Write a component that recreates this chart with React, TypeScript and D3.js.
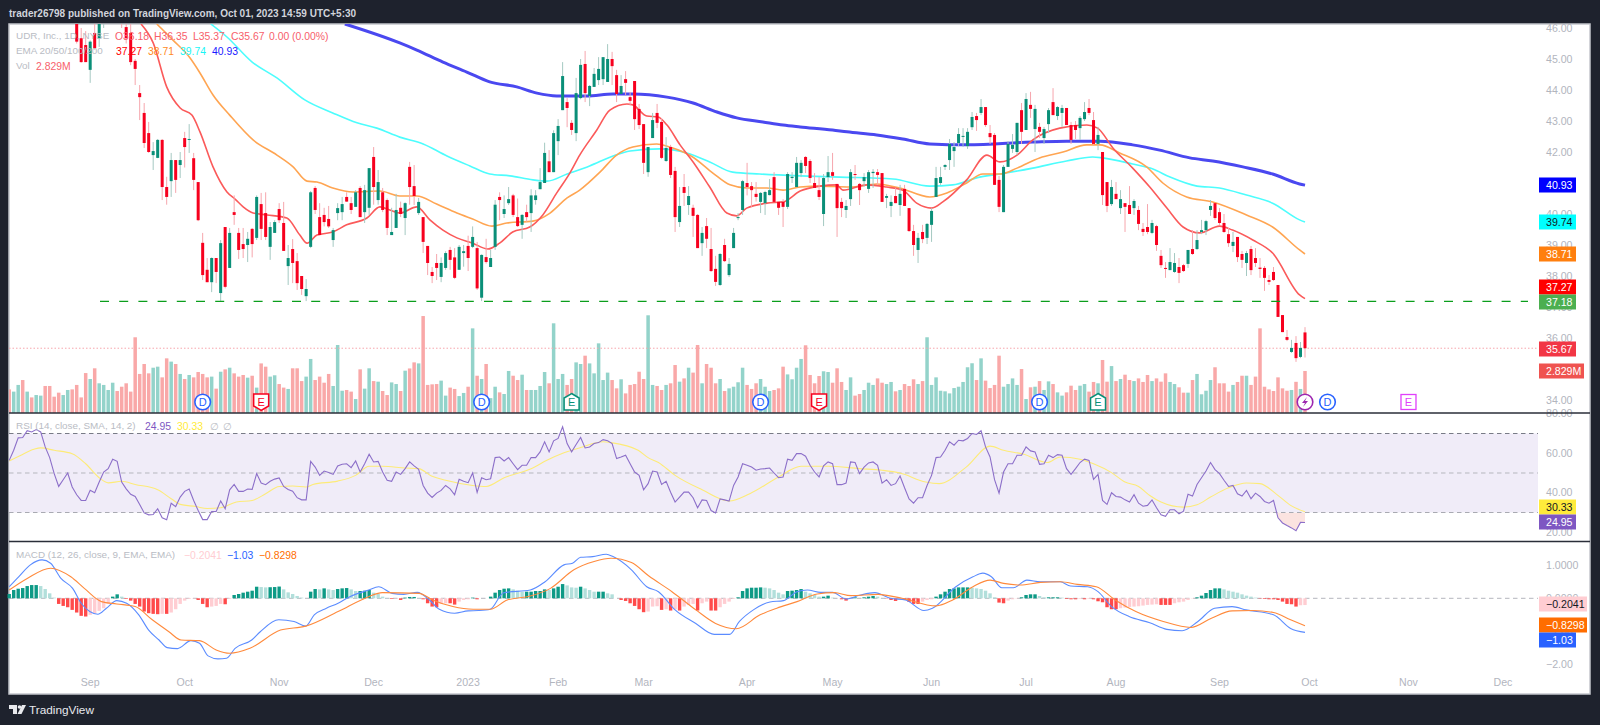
import React, { useEffect, useRef } from 'react'
import * as d3 from 'd3'

// one row per trading day: open, high, low, close
const ohlcRows: number[][] = [
  [46.9,47.2,46.5,46.7],[46.7,47.3,46.5,47.1],[47.1,47.7,46.9,47.5],[47.5,47.9,47.0,47.2],[47.2,48.0,47.1,47.8],
  [47.8,48.2,47.3,47.5],[47.5,48.4,47.4,48.2],[48.2,49.0,48.0,48.8],[48.8,49.1,48.2,48.4],[48.4,48.6,47.8,48.0],
  [48.0,48.2,47.4,47.6],[47.6,47.8,47.0,47.2],[47.2,47.6,46.9,47.4],[47.4,47.8,47.1,47.6],[47.6,47.7,46.7,46.9],
  [46.6,47,45.5,45.56],[45.67,46,44.88,44.9],[45.45,45.9,44.9,44.9],[44.65,45.6,44.23,45.56],[45.84,46.3,45.3,45.35],
  [45.67,46.8,45.39,46.3],[46.5,47.2,46,47],[47,47.8,46.8,47.4],[47.2,47.8,47,47.5],[47.4,47.6,46.8,46.9],
  [46.9,47.2,46,46.4],[46.03,46.5,45.5,45.67],[45.84,46.2,44.8,44.9],[44.94,45,44.16,44.68],[43.9,44.16,43.03,43.77],
  [43.26,43.58,42.13,42.29],[42.61,42.97,41.97,42],[41.9,42.32,41.42,42.03],[41.81,42.42,41.8,42.39],[42.39,42.42,40.45,40.87],
  [40.87,41.2,40.3,40.55],[41.06,41.97,40.55,41.74],[41.74,41.74,40.68,41.1],[41.58,42,41.16,41.74],[42.45,42.65,41.5,42.16],
  [42.39,42.9,41.97,42.42],[41.8,41.97,40.77,41.1],[41.03,41.03,39.77,39.8],[39.07,39.39,37.87,38.03],[38.2,38.58,37.8,37.8],
  [37.8,38.6,37.48,38.58],[38.58,38.58,37.77,38.13],[37.45,39.16,37.19,39.06],[39.58,39.58,37.6,37.65],[38.26,39.55,38.26,39.39],
  [40.06,40.6,39.65,39.97],[39.39,39.55,38.55,38.84],[39.03,39.55,38.58,38.87],[39,39.42,38.45,39.2],[39.52,39.55,38.6,39.03],
  [39.23,40.6,39.16,40.55],[40.32,40.68,39.16,39.52],[40.03,40.7,39.16,39.26],[38.94,39.74,38.52,39.58],[39.39,39.8,39.39,39.74],
  [40.16,40.35,39.71,39.8],[39.71,40.39,38.81,38.81],[38.32,39,37.71,38.58],[38.87,39.19,37.77,38.42],[38.48,38.74,37.55,37.77],
  [38,38,37.39,37.58],[37.35,37.9,37.19,37.58],[38.94,40.74,38.9,40.7],[40.84,40.9,40,40.13],[39.9,40.35,39.32,39.32],
  [39.97,40.2,39.6,39.74],[39.84,40.26,39.55,39.6],[39.16,39.55,38.94,39.48],[40.03,40.35,39.8,40.19],[40.06,40.55,39.8,40.32],
  [40.55,40.7,40.39,40.4],[40.35,40.55,40,40.13],[40.23,40.77,40.23,40.7],[40.84,40.9,39.9,39.9],[40.06,40.94,39.71,40.77],
  [40.2,41.48,39.97,41.48],[41.84,42.16,40.3,40.87],[40.45,41.42,40.3,41.03],[40.7,40.84,40.06,40.13],[40.45,40.5,39.32,39.55],
  [39.32,40.2,39.39,39.42],[39.55,40.65,39.55,40.13],[40.2,40.4,39.9,40],[39.87,40.38,39.32,40.35],[41.52,41.68,40.3,40.87],
  [40.9,41.58,40.29,40.58],[40.03,40.52,39.97,40.39],[39.9,39.9,38.74,39.1],[38.97,38.97,38.03,38.42],[38.13,38.29,37.77,38],
  [38.42,38.71,37.87,38.26],[37.97,38.6,37.8,38.42],[38.26,38.8,38.2,38.74],[38.84,38.94,38.2,38.52],[38.6,38.9,37.9,37.94],
  [38.2,39,38.2,38.94],[38.74,39,38.3,38.8],[38.97,39.3,38.16,38.58],[38.94,39.6,38.9,39.26],[38.9,39.1,37.55,37.6],
  [37.3,38.7,37.19,38.68],[38.61,39.2,38.4,38.45],[38.29,38.84,38.29,38.58],[38.94,40.45,38.84,40.3],[40.55,40.7,39.8,40.45],
  [40,40.6,39.87,40.16],[40.35,40.87,40.29,40.48],[40.6,40.65,39.9,39.97],[39.9,40.5,39.58,39.61],[39.65,40,39.2,39.97],
  [40.06,40.3,39.75,39.9],[40.03,40.8,39.42,40.6],[40.45,40.77,40.3,40.6],[40.8,41.48,40.8,41.03],[41,42.3,41,41.97],
  [41.7,42.06,41.35,41.35],[41.35,42.7,41.35,42.61],[42.35,43.06,41.9,42.84],[43.35,44.9,43.35,44.45],[43.61,43.74,42.8,43.42],
  [42.94,43.03,42.55,42.71],[42.61,44.39,42.35,43.9],[43.74,45,43.7,44.81],[44.84,45.26,43.61,43.9],[43.81,44.16,43.48,44.13],
  [44.1,44.71,44.1,44.52],[44.32,45.06,44.16,44.68],[44.35,45.06,44.16,45.06],[44.26,45.48,44.26,45],[45,45.23,44.16,44.77],
  [44.48,44.65,43.61,43.87],[43.87,44.48,43.87,44.13],[44.35,44.61,43.84,44.23],[43.77,43.94,43.5,43.65],[44.29,44.29,42.71,43.06],
  [43.39,43.55,42.74,42.87],[42.9,42.9,41.29,41.65],[41.35,42.16,41.2,42.16],[42.45,43.26,42.45,43.03],[43.26,43.55,42.77,42.94],
  [42.97,43.1,41.77,41.81],[41.71,42.48,41.68,42.13],[42.16,42.23,41.16,41.26],[41.39,41.52,39.42,39.9],[39.74,40.87,39.58,40.26],
  [40.87,41.29,40.26,40.68],[40.29,40.9,39.97,40.58],[40.2,40.3,39.26,39.94],[39.97,40,38.9,38.9],[39.06,39.58,38.65,39.39],
  [39.61,39.87,38.9,39.2],[38.87,39.55,38.13,38.16],[38.23,38.65,37.68,37.81],[37.71,38.74,37.68,38.71],[39,39.2,38.45,38.48],
  [38.03,38.58,37.97,38.39],[38.9,39.55,38.9,39.39],[39.87,40.03,39.8,39.9],[40.13,41.1,39.97,41.06],[41,41.65,40.6,40.87],
  [40.9,41.03,40.23,40.77],[40.65,41.03,40.4,40.55],[40.39,40.71,40.03,40.68],[40.35,40.75,39.97,40.71],[40.61,41.13,40.6,40.77],
  [41.19,41.35,40.39,40.39],[40.39,40.4,39.97,40.2],[40.39,40.48,39.58,40.23],[40.23,41.35,40.16,41.29],[41.16,41.35,41,41.2],
  [40.87,41.84,40.87,41.65],[41.32,41.74,41.19,41.65],[41.84,41.87,41.32,41.55],[41.71,41.77,41,41.16],[41,41.32,40.84,40.84],
  [40.77,41.19,40.45,40.55],[40,41.29,39.61,41.16],[41.19,41.87,41.03,41.35],[41.35,41.97,41.1,41.23],[40.97,40.97,39.26,40.19],
  [40.39,40.52,39.9,40.19],[40.13,40.45,39.87,40.26],[40.48,41.45,40.26,41.35],[41.29,41.58,41.1,41.26],[40.97,41,40.29,40.77],
  [41.06,41.32,40.87,41.19],[40.81,41.42,40.68,41.35],[41.32,41.45,40.84,41.36],[41.35,41.45,40.94,41.26],[41.32,41.32,40.39,40.39],
  [40.52,40.65,40.19,40.58],[40.26,40.6,39.9,40.39],[40.58,40.84,40.35,40.35],[40.29,40.94,39.94,40.65],[40.81,40.94,40.26,40.26],
  [40.19,40.19,39.42,39.45],[39.45,39.65,38.65,39],[38.84,39.39,38.42,39.23],[39.42,39.65,39.06,39.19],[39.23,39.71,39.03,39.68],
  [39.65,40.19,39.1,40.1],[40.55,41.52,40.55,41.16],[41,41.52,40.94,41.19],[41.52,41.61,41.42,41.58],[41.74,42.42,41.42,42.26],
  [42.03,42.32,41.52,42.16],[42.29,42.77,42.19,42.58],[42.5,42.77,42.16,42.52],[42.19,42.77,42.1,42.65],[42.8,43.29,42.71,43.13],
  [43.16,43.26,42.68,43.03],[43.26,43.71,43.19,43.45],[43.45,43.45,42.81,42.87],[42.61,42.87,42.26,42.48],[42.55,42.61,40.94,40.94],
  [41.1,41.23,40.06,40.23],[40.06,41.58,40.06,41.52],[41.52,42.35,41.52,42.26],[42.1,42.58,41.97,42.23],[42,42.94,41.9,42.94],
  [43.35,43.58,42.26,42.65],[42.71,43.9,42.71,43.71],[43.52,43.94,43.1,43.39],[42.74,43.52,42,43.39],[42.81,42.94,42.45,42.65],
  [42.45,42.81,42.26,42.74],[42.9,43.42,42.61,43.35],[43.61,44.06,43.19,43.19],[43.16,43.48,43.03,43.45],[43.26,43.52,42.81,43.42],
  [43.42,43.42,42.87,42.87],[42.87,42.97,42.26,42.39],[42.87,43,42.42,42.71],[42.77,43.16,42.39,43.1],[43.06,43.61,43,43.29],
  [43.42,43.71,43.19,43.26],[43.03,43.29,42.23,42.26],[42.26,42.81,42.06,42.55],[42,42,40.29,40.61],[41.03,41.03,40.06,40.26],
  [40.32,41.1,40.26,40.87],[40.65,41.03,40.48,40.48],[40.19,40.77,40,40.48],[40.35,40.35,39.42,40.23],[40.29,40.9,40,40],
  [40.19,40.48,39.97,40.42],[40.13,40.26,39.48,39.68],[39.52,39.71,39.29,39.42],[39.58,40.32,39.35,39.42],[39.39,39.81,39.35,39.71],
  [39.61,39.65,38.81,39],[38.65,38.84,38.26,38.35],[38.26,38.45,37.94,38.23],[38.19,38.9,38.19,38.45],[38.13,38.74,38.1,38.42],
  [38.29,38.58,37.77,38.1],[38.35,38.39,38.13,38.16],[38.39,38.84,38.26,38.84],[38.87,39.48,38.68,38.71],[38.87,39.48,38.84,39.16],
  [39.42,39.81,39.35,39.48],[39.48,39.81,39.32,39.77],[40.13,40.45,39.94,40.26],[40.35,40.35,39.81,39.87],[40.06,40.19,39.65,39.71],
  [39.71,40,39.39,39.42],[39.35,39.55,38.94,39.06],[38.97,39.42,38.77,39.1],[39.26,39.26,38.45,38.61],[38.71,38.81,38.26,38.52],
  [38.42,38.81,38,38.74],[38.87,38.97,38.03,38.19],[38.58,38.9,38.29,38.42],[38.27,38.58,37.94,38.23],[38.26,38.32,37.52,37.94],
  [37.87,38.03,37.71,37.81],[38.13,38.29,37.84,37.87],[37.71,37.71,36.68,36.68],[36.74,36.74,36.19,36.19],[36.03,36.26,35.9,35.94],
  [35.55,35.94,35.52,35.68],[35.84,36.06,35.23,35.35],[35.39,35.87,35.35,35.68],[36.18,36.35,35.37,35.67],
]

// volume in millions
const volumes = [
  1.59,1.44,1.89,2.22,1.44,1.05,1.21,1.17,1.82,1.82,
  1.10,1.37,1.21,1.55,1.59,1.89,1.05,2.69,2.29,3.01,
  2.0,1.89,1.55,2.04,1.48,1.77,2.0,1.44,5.1,2.63,
  3.3,2.67,3.05,3.12,2.4,3.68,3.46,3.3,2.63,2.29,
  2.56,2.4,2.76,2.63,2.4,2.45,1.64,2.78,2.94,3.05,
  2.67,2.45,2.56,2.38,2.51,1.71,3.34,3.12,2.45,2.54,
  1.95,1.71,1.62,3.01,3.01,2.15,2.45,3.64,2.22,2.45,
  2.04,2.63,1.82,4.58,1.5,1.55,1.44,.94,2.94,1.64,
  3.01,2.15,2.11,1.48,1.21,2.06,1.95,1.48,2.85,3.0,
  3.41,3.34,6.53,1.89,1.93,1.95,2.18,1.17,1.71,1.62,
  1.14,1.35,1.77,5.7,2.51,2.29,3.3,1.0,1.77,1.39,
  1.28,2.83,2.51,2.22,2.58,1.55,1.55,1.55,1.82,2.76,
  2.0,6.04,2.29,2.63,1.89,2.29,3.41,3.3,3.86,3.34,
  2.67,4.69,2.22,2.72,2.22,1.66,2.27,1.32,1.89,1.95,
  2.78,2.29,6.58,1.89,1.82,1.55,1.89,2.0,3.23,2.11,
  2.33,3.05,2.72,4.58,2.0,3.3,3.05,2.0,2.29,1.48,
  1.66,1.77,2.07,3.05,1.89,1.62,2.0,2.29,1.77,1.48,
  1.55,1.66,3.12,2.6,2.27,3.05,3.64,4.56,2.56,2.0,
  2.49,2.81,2.76,2.04,3.01,2.09,1.55,2.4,1.17,1.28,
  1.55,2.04,1.89,2.33,2.04,1.95,2.09,1.46,1.55,1.95,
  1.82,2.27,1.95,2.15,5.1,1.89,2.4,1.5,1.46,1.32,
  1.68,1.77,2.09,3.08,3.35,2.22,3.68,2.18,1.68,1.89,
  3.86,1.77,1.95,2.33,1.89,2.96,.94,1.73,1.77,2.15,
  1.55,2.13,1.95,1.39,1.17,1.39,1.84,1.55,1.84,1.95,
  1.44,2.09,2.0,3.57,2.11,3.16,2.15,2.29,2.58,2.22,
  2.15,2.33,2.09,2.56,2.15,2.33,2.11,2.67,2.09,1.95,
  1.73,1.37,1.37,2.22,2.63,1.26,1.5,2.22,3.08,2.0,
  2.0,1.44,1.89,2.09,2.51,2.51,1.89,2.45,5.7,1.77,
  1.59,1.48,2.4,1.66,1.5,1.55,2.1,1.62,2.829,
]

// EMA lines, read as [bar, price]
const ema20Points = [
  [29.3,46.13],[32,45.52],[35,44.1],[38,43.42],[40.6,43.19],[42.4,42.65],[45.3,41.52],[48.4,40.71],[50.2,40.48],[52,40.23],
  [54.2,40.03],[57.3,39.97],[61.7,39.87],[64.6,39.32],[66.2,39.06],[68.4,39.32],[71.9,39.42],[75,39.65],[79.5,39.87],[82.4,40.23],
  [84.6,40.13],[86.8,40.03],[90.6,40.23],[93.5,39.81],[96.4,39.48],[99.5,39.23],[103,39.06],[106.4,38.87],[109,39.06],[111.9,39.42],
  [115.7,39.58],[118.6,39.97],[121.7,40.68],[124.6,41.32],[126.8,41.9],[130.6,42.71],[133.5,43.35],[137.3,43.55],[138.6,43.52],[141.7,43.16],
  [144.2,43.13],[146.2,42.87],[149.1,42.23],[152,41.68],[155.7,40.87],[159.5,40.03],[161.7,39.94],[163.9,40.19],[168.4,40.35],[172,40.39],
  [175.8,40.74],[180.2,40.9],[183.9,40.94],[185.3,40.77],[190.6,40.94],[195,40.87],[198.6,40.77],[201.7,40.35],[205,40.19],[207.5,40.39],
  [212.8,41.1],[217.3,41.9],[220.2,41.68],[224,41.9],[227.5,42.39],[233.5,42.77],[239.5,42.87],[241.9,42.77],[245.3,42.13],[249.7,41.48],
  [253.5,40.87],[257.3,40.19],[260.9,39.58],[264.6,39.39],[269,39.61],[271.9,39.48],[276.4,39.16],[280.8,38.74],[286.8,37.39],[288,37.27],
]
const ema50Points = [
  [32.8,46.13],[36.4,45.61],[40.2,45.03],[42.4,44.55],[45.3,43.84],[49,43.19],[54.2,42.39],[59.5,41.9],[63.1,41.52],[66.2,41.06],
  [68.4,41.03],[71.9,40.84],[76.4,40.71],[82.4,40.74],[86.8,40.58],[90.6,40.58],[95,40.32],[99.5,40.03],[103,39.84],[107.3,39.61],
  [110.6,39.71],[116.4,39.77],[120.2,40.03],[124,40.52],[126.8,40.77],[131.3,41.35],[135,41.9],[138.6,42.16],[143.9,42.26],[146.8,42.16],
  [151.9,41.84],[156.4,41.32],[160.2,40.94],[163.9,40.84],[168.4,40.84],[172,40.77],[175.8,40.87],[180.2,40.9],[186.8,40.87],[192.8,40.97],
  [197.9,40.84],[204.6,40.55],[208.4,40.68],[212.8,41],[216.4,41.29],[220.2,41.29],[224,41.48],[229,41.81],[234.2,42],[239.5,42.23],
  [242.4,42.23],[246.8,41.97],[252.8,41.52],[256.4,41],[261.7,40.55],[267.5,40.39],[275,39.97],[280.8,39.58],[286.8,38.84],[288,38.71],
]
const ema100Points = [
  [44.8,46.13],[48.4,45.71],[54,44.9],[59.5,44.39],[65.7,43.68],[71.9,43.26],[77.3,42.94],[81.7,42.77],[86.8,42.48],[92,42.26],
  [97.3,41.87],[102.4,41.55],[106.8,41.29],[111.3,41.23],[116.4,41.1],[119.5,41.06],[124,41.29],[129,41.55],[134.2,41.87],[138,42.03],
  [144.6,42.1],[150.6,41.97],[155.7,41.68],[160.8,41.35],[166.8,41.29],[175.8,41.23],[184.6,41.19],[196.4,41.13],[204.6,40.9],[209.7,40.94],
  [215.7,41.19],[220.2,41.29],[227.5,41.48],[235,41.71],[240.8,41.84],[243,41.81],[249.7,41.61],[254.2,41.45],[258,41.19],[264,40.9],
  [269,40.84],[275,40.61],[280.8,40.35],[286.8,39.81],[288,39.74],
]
const ema200Points = [
  [74.6,46.13],[86.8,45.52],[90.6,45.29],[96.4,44.9],[101.7,44.58],[106.8,44.26],[112.8,44.1],[117.3,43.9],[121.7,43.81],[128.4,43.81],
  [134.2,43.87],[138.6,43.87],[146.2,43.77],[152,43.58],[157.3,43.29],[161.7,43.1],[167.5,42.97],[172,42.87],[175.8,42.81],[183,42.71],
  [186.2,42.65],[192.8,42.55],[198.6,42.42],[204.6,42.26],[212.8,42.23],[227.5,42.32],[235,42.35],[242.4,42.35],[249.7,42.23],[255.7,42.06],
  [262.4,41.81],[267.5,41.71],[274.2,41.52],[280.8,41.29],[286.8,40.97],[288,40.93],
]

const rsiValues = [
  56.4,61.5,67.8,68,71.4,70.8,72,70.8,63.2,57.8,
  49.7,43.2,46.6,50,42.9,39,36.1,36.1,41.2,40,
  45.4,50.5,52.2,57,55.9,45.4,42,39.2,38.1,34.1,
  29.8,28.8,29,31.9,27.3,26.3,34.7,33,37.8,40.7,
  41.9,36.1,31,26.4,26.4,30.5,30.5,35.8,31.9,41.5,
  44.2,40.7,40.7,41.9,41.7,49.7,44.9,44.1,45.8,46.9,
  47.5,43.2,41.7,40.8,37.5,36.4,36.4,55.9,53,48.8,
  51,50.3,49.3,53.6,54.4,54.7,52.7,56.1,50.5,54.7,
  59.5,55.6,55.9,50.5,46.3,45.8,50.5,49.3,52.2,55.6,
  53.6,51.9,43.7,39.8,37.6,39.8,41.2,43.7,42,39,
  46.8,45.8,45.1,50,40.2,47.6,46.6,47.1,57.8,58.1,
  56.1,57.8,54.7,51.7,53.9,53.9,
  57.8,57.8,60.7,65.8,60.7,66.3,67.5,73.4,64.9,60.7,
  64.4,68,62.7,63.2,64.9,65.4,66.9,66.3,64.9,57.3,
  58.1,59,54.7,50.5,48.8,41.5,44.6,51,50.5,44.2,
  45.8,40.3,35.3,37.8,40.3,40.3,37.5,32.4,36.4,36.1,
  31,29.8,36.9,36.4,35.8,43.7,48,54.7,53.9,53,
  51.4,52,52.2,52.5,50,47.6,48,57,56.4,59.8,
  59.8,58.5,53.9,50.5,48,53.6,55.6,54.7,44.1,44.1,
  44.9,55.6,55.3,49.7,53,55.1,55.6,53.9,44.9,46.6,
  43.7,44.6,48.5,42.5,36.9,34.7,37.5,37.5,43.7,48.8,
  57.8,58.1,61.5,65.8,64.1,66.6,66.3,67.5,70,69.5,
  71.4,63.2,58.1,46.6,39.8,50.5,54.7,54.7,59,59,
  63.2,61.2,60.7,54.4,54.7,59,57.8,59.3,
  59,52.2,49.3,52.2,55.3,57,56.4,46.8,49.3,36.1,
  34.1,40,38.1,37.8,36.4,35.3,39,34.7,33.2,33.6,
  36.4,32.4,28.8,28.1,31.4,31.4,29.3,30.7,39.2,38.3,
  44.2,47.6,51,55.3,51.7,49.7,46.3,43.2,43.7,39.5,
  38.3,41.2,37,39.8,38.1,35.6,34.7,36.1,27.3,24.7,
  23.4,22.2,20.8,25,24.95,
]
const rsiMaPoints = [
  [0,56.1],[2.5,58.9],[5.5,62],[7,62.7],[10,61.5],[14,59.8],[17,54.7],[20,47.6],[22,45],[25,45.8],
  [28,44.2],[33,41.5],[36,37],[38,34.1],[41.5,33],[44,32],[47,32.4],[50.5,35.3],[54,36.1],[57,39.5],
  [60,43.2],[63,43.4],[66,42.9],[67.5,44.2],[73,45.9],[77,48.8],[80,53.4],[83,53.4],[88,52.5],[91,52.2],
  [94,48.3],[97,46.3],[103,43.7],[106,43.2],[110,47.6],[116,52.2],[119.5,56.4],[123.3,60.2],[127,62.9],[132,65.8],
  [133.8,65.4],[139.8,61.5],[142,57.8],[144.3,55.3],[148,48.8],[154,41.5],[160,35.8],[164.6,39.5],[171,48],[176,53.4],
  [182,53.4],[189,52.2],[194,51.4],[198,50],[203.7,45.4],[206.7,44.6],[212.7,53],[218,63.6],[221,61.5],[225.5,59.5],
  [230.7,55.3],[233.6,58.1],[238,57],[241,54.7],[245,50.2],[248,45.4],[251,43.2],[253.5,38.6],[256,35.3],[261,32.7],
  [264,33.9],[267,37.8],[271,42.5],[275,44.9],[278,44.6],[281.7,39.2],[284.8,33.6],[288,30.33],
]

const macdHist = [
  .13,.25,.29,.31,.37,.40,.40,.37,.28,.15,
  .02,-.17,-.23,-.27,-.35,-.43,-.53,-.55,-.50,-.45,
  -.38,-.30,-.17,.05,.12,.05,-.02,-.07,-.17,-.25,
  -.40,-.45,-.47,-.48,-.47,-.47,-.43,-.33,-.17,-.07,
  -.02,-.01,-.05,-.17,-.27,-.25,-.23,-.17,-.18,-.02,
  .10,.13,.17,.20,.23,.35,.34,.33,.335,.34,
  .355,.27,.18,.13,.07,.02,0,.20,.28,.27,
  .30,.27,.25,.28,.30,.31,.27,.22,.22,.23,
  .25,.17,.13,.05,.01,-.02,-.01,-.05,.02,.04,
  .04,.01,-.03,-.15,-.25,-.27,-.17,-.15,-.15,-.19,
  -.10,-.05,-.03,.02,-.03,0,0,.05,.17,.25,
  .29,.30,.27,.23,.20,.20,
  .20,.22,.22,.27,.25,.30,.35,.43,.39,.33,
  .32,.35,.30,.25,.20,.20,.20,.15,.12,0,
  -.05,-.08,-.15,-.23,-.33,-.42,-.40,-.25,-.24,-.35,
  -.33,-.37,-.33,-.37,-.25,-.20,-.17,-.37,-.15,-.10,
  -.37,-.37,-.27,-.17,-.10,-.02,.03,.22,.30,.32,
  .32,.33,.32,.30,.25,.17,.12,.22,.23,.25,
  .28,.20,.15,.10,.05,.05,.08,.02,0,-.03,
  -.07,-.01,.03,0,.03,.05,.07,.05,.01,-.01,
  -.05,-.08,-.01,-.05,-.11,-.17,-.17,-.10,-.05,-.03,
  .05,.12,.20,.28,.30,.33,.33,.33,.32,.30,
  .28,.23,.15,.03,-.13,-.15,-.07,-.03,-.01,.03,
  .10,.12,.12,.07,.03,.03,.03,.03,
  .02,-.02,-.03,-.03,-.02,-.03,-.02,-.03,-.09,-.12,
  -.27,-.33,-.33,-.30,-.28,-.26,-.25,-.24,-.22,-.20,
  -.19,-.18,-.20,-.20,-.20,-.15,-.12,-.10,-.05,-.01,
  .03,.08,.16,.25,.30,.30,.27,.23,.20,.17,
  .12,.08,.05,.02,-.01,-.02,-.03,-.03,-.05,-.10,
  -.17,-.18,-.25,-.21,-.2041,
]
const macdPoints = [
  [0,.35],[2.1,.65],[4.7,1.01],[7.3,1.16],[9.2,1.06],[11.5,.6],[14.1,.3],[16,-.15],[17.9,-.4],[19.7,-.48],
  [21.6,-.3],[23.9,-.07],[26.1,-.15],[28.8,-.5],[31,-.96],[33.3,-1.26],[35.1,-1.49],[37.4,-1.52],[40.4,-1.28],[42.3,-1.36],
  [44.2,-1.74],[46.4,-1.83],[48.3,-1.81],[50.2,-1.51],[53.9,-1.26],[55.8,-1.01],[59.9,-.65],[63.3,-.7],[65.9,-.84],[67.8,-.5],
  [70.5,-.3],[73.1,-.15],[75.7,.05],[79.9,.25],[82.1,.35],[85.1,.15],[87.7,.12],[90.7,.18],[93.4,-.05],[95.6,-.33],
  [99,-.45],[102,-.38],[104.3,-.37],[106.9,-.33],[109.9,.17],[115.8,.25],[119.1,.5],[123.3,1.01],[125.2,1.06],[127,1.24],
  [129.7,1.26],[132.7,1.33],[134.2,1.26],[138.3,.86],[141.7,.35],[144.3,.2],[148,-.35],[152.6,-.76],[156.7,-1.09],[160.1,-1.09],
  [162.3,-.7],[165.4,-.35],[169.1,-.11],[172.1,-.07],[175.1,.2],[177.4,.25],[180.4,.18],[183,.18],[186,-.02],[189,.09],
  [192.4,.17],[195.8,0],[199.2,-.05],[203.3,-.37],[205.2,-.3],[210.4,.35],[214.2,.65],[216.4,.76],[218.3,.65],[220.6,.32],
  [223.2,.32],[226.2,.55],[229.2,.5],[233.6,.5],[235.9,.37],[239.7,.35],[242,.2],[245,-.25],[248.9,-.55],[253.5,-.74],
  [257.3,-.94],[260.7,-.98],[264.2,-.7],[267.9,-.3],[271.8,-.25],[274.9,-.35],[281,-.5],[284.8,-.91],[288,-1.03],
]
const signalPoints = [
  [0,.25],[4,.6],[9.2,.91],[13.7,.65],[16.7,.3],[20.5,-.1],[23.9,-.17],[28,-.25],[31.8,-.65],[35.5,-1.01],
  [38.2,-1.26],[42.3,-1.28],[46,-1.56],[49,-1.66],[53.5,-1.51],[60.3,-.96],[65.9,-.84],[73.1,-.4],[79.9,.05],[82.9,.17],
  [91.1,.15],[94.1,-.05],[98.6,-.25],[103.1,-.33],[106.9,-.33],[110.7,-.05],[115.8,.07],[120.3,.3],[125.5,.86],[130,1.11],
  [133.8,1.21],[138.3,1.08],[142.1,.68],[147.3,.2],[152.6,-.35],[157,-.76],[161.6,-.92],[166.9,-.5],[170.6,-.3],[175.1,-.1],
  [179.6,.13],[183.4,.17],[187.1,.08],[193.1,.12],[198.4,0],[206,-.23],[209.7,-.05],[214.2,.35],[218,.55],[221,.45],
  [224.7,.4],[229.2,.48],[233.6,.5],[237.4,.42],[241.6,.35],[245.8,-.05],[250.4,-.4],[256.5,-.7],[262.6,-.88],[267.2,-.6],
  [271.8,-.38],[276.4,-.37],[281,-.43],[284.8,-.65],[288,-.8298],
]

// axis labels
const priceTicks = [46, 45, 44, 43, 42, 41, 40, 39, 38, 37, 36, 35, 34]
const rsiTicks = [80, 60, 40, 20]
const macdTicks = [1, 0, -1, -2]
const monthBars = [18, 39, 60, 81, 102, 122, 141, 164, 183, 205, 226, 246, 269, 289, 311, 332]
const monthLabels = ['Sep', 'Oct', 'Nov', 'Dec', '2023', 'Feb', 'Mar', 'Apr', 'May', 'Jun', 'Jul', 'Aug', 'Sep', 'Oct', 'Nov', 'Dec']

// dividend and earnings flags under the candles
const dividendBars = [43, 105, 167, 229, 293]
const earningsPastBars = [56, 180]
const earningsBeatBars = [125, 242]
const earningsNextBar = 311
const splitBar = 288

const supportLevel = 37.18
const lastClose = 35.67

const FONT = '"Liberation Sans", Arial, sans-serif'
const AXIS_COLOR = '#b2b5be'

export default function App() {
  const svgRef = useRef<SVGSVGElement>(null)

  useEffect(() => {
    if (!svgRef.current) return
    const svg = d3.select(svgRef.current)
    svg.selectAll('*').remove()

    // frame
    const left = 9, right = 1590, plotRight = 1538, top = 24, bottom = 694
    const priceBottom = 413, rsiBottom = 541.5

    const x = d3.scaleLinear().domain([0, 288]).range([9.2, 1305])
    const yPrice = d3.scaleLinear().domain([34, 46]).range([400, 28])
    const yVol = d3.scaleLinear().domain([0, 10]).range([priceBottom, priceBottom - 148.5])
    const yRsi = d3.scaleLinear().domain([20, 80]).range([532.25, 413.75])
    const yMacd = d3.scaleLinear().domain([-2, 1]).range([664.5, 565.2])

    svg.append('rect').attr('width', 1600).attr('height', 725).attr('fill', '#1e222d')
    svg.append('rect').attr('x', left).attr('y', top).attr('width', right - left).attr('height', bottom - top)
      .attr('fill', '#ffffff').attr('stroke', '#c4c6cc').attr('stroke-width', 1.5)

    const defs = svg.append('defs')
    defs.append('clipPath').attr('id', 'price-clip').append('rect')
      .attr('x', left).attr('y', top).attr('width', plotRight - left).attr('height', priceBottom - top)
    defs.append('clipPath').attr('id', 'below30').append('rect')
      .attr('x', left).attr('y', yRsi(30)).attr('width', plotRight - left).attr('height', 40)

    // price pane
    const pricePane = svg.append('g').attr('clip-path', 'url(#price-clip)')

    pricePane.selectAll('.vol').data(volumes).enter().append('rect')
      .attr('x', (_, i) => x(i) - 1.75).attr('width', 3.5)
      .attr('y', d => yVol(d)).attr('height', d => priceBottom - yVol(d))
      .attr('fill', (_, i) => (ohlcRows[i][3] < ohlcRows[i][0] ? '#f9a8a8' : '#93d3ca'))

    pricePane.append('line').attr('x1', left).attr('x2', plotRight)
      .attr('y1', yPrice(lastClose)).attr('y2', yPrice(lastClose))
      .attr('stroke', '#f7a6ad').attr('stroke-dasharray', '1.5 2')

    const lineOf = (sx: any, sy: any) =>
      d3.line<number[]>().x(d => sx(d[0])).y(d => sy(d[1])).curve(d3.curveMonotoneX)

    const emaLine = lineOf(x, yPrice)
    const emas: [number[][], string, number][] = [
      [ema200Points, '#4a48f0', 3],
      [ema100Points, '#4dfdfd', 1.6],
      [ema50Points, '#ffa552', 1.6],
      [ema20Points, '#fb5a5a', 1.6],
    ]
    emas.forEach(([pts, color, w]) => {
      pricePane.append('path').attr('d', emaLine(pts)).attr('fill', 'none').attr('stroke', color).attr('stroke-width', w)
    })

    const candleColor = (d: number[]) => (d[3] < d[0] ? '#f7001e' : '#0a8f78')
    const wickColor = (d: number[]) => (d[3] < d[0] ? '#f6a6ad' : '#a5c9c2')
    pricePane.selectAll('.wick').data(ohlcRows).enter().append('line')
      .attr('x1', (_, i) => x(i)).attr('x2', (_, i) => x(i))
      .attr('y1', d => yPrice(d[1])).attr('y2', d => yPrice(d[2]))
      .attr('stroke', wickColor).attr('stroke-width', 1)
    pricePane.selectAll('.body').data(ohlcRows).enter().append('rect')
      .attr('x', (_, i) => x(i) - 1.5).attr('width', 3)
      .attr('y', d => yPrice(Math.max(d[0], d[3])))
      .attr('height', d => Math.max(1, Math.abs(yPrice(d[0]) - yPrice(d[3]))))
      .attr('fill', candleColor)

    // support line drawn by the author
    svg.append('line').attr('x1', 100).attr('x2', 1528)
      .attr('y1', yPrice(supportLevel)).attr('y2', yPrice(supportLevel))
      .attr('stroke', '#0b9e1c').attr('stroke-width', 1.4).attr('stroke-dasharray', '9 10.2')

    // flags
    const flagY = 402
    dividendBars.forEach(b => {
      const g = svg.append('g').attr('transform', `translate(${x(b)},${flagY})`)
      g.append('circle').attr('r', 7.8).attr('fill', '#fff').attr('stroke', '#2962ff').attr('stroke-width', 1.6)
      g.append('text').attr('text-anchor', 'middle').attr('y', 4).attr('font-size', 11).attr('fill', '#2962ff').attr('font-family', FONT).text('D')
    })
    const shield = (b: number, color: string, pointUp: boolean) => {
      const g = svg.append('g').attr('transform', `translate(${x(b)},${flagY})`)
      const d = pointUp
        ? 'M0,-8.5 L7.5,-4 L7.5,8 L-7.5,8 L-7.5,-4 Z'
        : 'M-7.5,-8 L7.5,-8 L7.5,4 L0,8.5 L-7.5,4 Z'
      g.append('path').attr('d', d).attr('fill', '#fff').attr('stroke', color).attr('stroke-width', 1.5)
      g.append('text').attr('text-anchor', 'middle').attr('y', 4).attr('font-size', 11).attr('fill', color).attr('font-family', FONT).text('E')
    }
    earningsPastBars.forEach(b => shield(b, '#f7001e', false))
    earningsBeatBars.forEach(b => shield(b, '#0a8f78', true))
    const nextE = svg.append('g').attr('transform', `translate(${x(earningsNextBar)},${flagY})`)
    nextE.append('rect').attr('x', -7.5).attr('y', -7.5).attr('width', 15).attr('height', 15)
      .attr('fill', '#fff').attr('stroke', '#e040fb').attr('stroke-width', 1.3)
    nextE.append('text').attr('text-anchor', 'middle').attr('y', 4).attr('font-size', 11).attr('fill', '#e040fb').attr('font-family', FONT).text('E')
    const split = svg.append('g').attr('transform', `translate(${x(splitBar)},${flagY})`)
    split.append('circle').attr('r', 7.8).attr('fill', '#fff').attr('stroke', '#9c27b0').attr('stroke-width', 1.6)
    split.append('path').attr('d', 'M2,-5 L-3,1 L0,1 L-2,5 L3,-1 L0,-1 Z').attr('fill', '#9c27b0')

    // RSI pane
    svg.append('rect').attr('x', left).attr('width', plotRight - left)
      .attr('y', yRsi(70)).attr('height', yRsi(30) - yRsi(70)).attr('fill', '#f0ecf8')
    const rsiPts = rsiValues.map((v, i) => [i, v])
    svg.append('path').attr('clip-path', 'url(#below30)')
      .datum(rsiPts.slice(280))
      .attr('d', d3.area<number[]>().x(d => x(d[0])).y0(yRsi(30)).y1(d => yRsi(d[1])))
      .attr('fill', '#fbe3e0')
    const rsiGuides: [number, string][] = [[70, '#787b86'], [50, '#b5b6bd'], [30, '#a9aab2']]
    rsiGuides.forEach(([v, c]) => {
      svg.append('line').attr('x1', left).attr('x2', plotRight).attr('y1', yRsi(v)).attr('y2', yRsi(v))
        .attr('stroke', c).attr('stroke-dasharray', '4.5 3.5')
    })
    svg.append('path')
      .attr('d', lineOf(x, yRsi)(rsiMaPoints)).attr('fill', 'none').attr('stroke', '#fdeb78').attr('stroke-width', 1.1)
    svg.append('path').datum(rsiPts)
      .attr('d', d3.line<number[]>().x(d => x(d[0])).y(d => yRsi(d[1])))
      .attr('fill', 'none').attr('stroke', '#8c6fc9').attr('stroke-width', 1.1)

    // MACD pane
    svg.append('line').attr('x1', left).attr('x2', plotRight).attr('y1', yMacd(0)).attr('y2', yMacd(0))
      .attr('stroke', '#b5b6bd').attr('stroke-dasharray', '4.5 3.5')
    const histColor = (v: number, i: number) => {
      const prev = i > 0 ? macdHist[i - 1] : 0
      if (v >= 0) return v >= prev ? '#0d9a86' : '#b2dfdb'
      return v <= prev ? '#ff4a4a' : '#ffcdd2'
    }
    svg.selectAll('.hist').data(macdHist).enter().append('rect')
      .attr('x', (_, i) => x(i) - 1.7).attr('width', 3.4)
      .attr('y', d => Math.min(yMacd(d), yMacd(0)))
      .attr('height', d => Math.abs(yMacd(d) - yMacd(0)))
      .attr('fill', histColor)
    svg.append('path').attr('d', lineOf(x, yMacd)(macdPoints)).attr('fill', 'none').attr('stroke', '#5b8cff').attr('stroke-width', 1.1)
    svg.append('path').attr('d', lineOf(x, yMacd)(signalPoints)).attr('fill', 'none').attr('stroke', '#ff8a3c').attr('stroke-width', 1.1)

    // axes
    const axisText = (tx: number, ty: number, s: string, anchor = 'start') =>
      svg.append('text').attr('x', tx).attr('y', ty).attr('dy', '0.35em').attr('text-anchor', anchor)
        .attr('font-family', FONT).attr('font-size', 10.6).attr('fill', AXIS_COLOR).text(s)

    priceTicks.forEach(v => axisText(1546, yPrice(v), v.toFixed(2)))
    rsiTicks.forEach(v => axisText(1546, yRsi(v), v.toFixed(2)))
    macdTicks.forEach(v => axisText(1546, yMacd(v), v === -2 || v === -1 ? `\u2212${Math.abs(v).toFixed(2)}` : v.toFixed(4)))
    monthLabels.forEach((m, i) => axisText(x(monthBars[i]), 682, m, 'middle'))

    // pane separators, over the tick labels that touch them
    ;[priceBottom, rsiBottom].forEach(y => {
      svg.append('line').attr('x1', left).attr('x2', right).attr('y1', y).attr('y2', y)
        .attr('stroke', '#2a2e39').attr('stroke-width', 1.3)
    })

    // last value tags on the axis
    const tag = (y: number, s: string, bg: string, fg: string, w = 37) => {
      svg.append('rect').attr('x', 1539).attr('y', y - 7.5).attr('width', w).attr('height', 15).attr('fill', bg)
      svg.append('text').attr('x', 1546).attr('y', y).attr('dy', '0.35em').attr('font-family', FONT)
        .attr('font-size', 10.6).attr('fill', fg).text(s)
    }
    tag(185, '40.93', '#0000ff', '#ffffff')
    tag(222, '39.74', '#00ffff', '#131722')
    tag(254, '38.71', '#ff7f0e', '#ffffff')
    tag(287, '37.27', '#ff0000', '#ffffff')
    tag(302, '37.18', '#4caf50', '#ffffff')
    tag(349, '35.67', '#f23645', '#ffffff')
    tag(371, '2.829M', '#ef5350', '#ffffff', 45)
    tag(507, '30.33', '#ffeb3b', '#131722')
    tag(522, '24.95', '#7e57c2', '#ffffff')
    tag(604, '\u22120.2041', '#ffcdd2', '#131722', 48)
    tag(625, '\u22120.8298', '#ff6d00', '#ffffff', 48)
    tag(640, '\u22121.03', '#2962ff', '#ffffff')

    // legend rows
    const legend = (tx: number, ty: number, s: string, fill: string, size = 10.4) =>
      svg.append('text').attr('x', tx).attr('y', ty).attr('dy', '0.35em').attr('font-family', FONT)
        .attr('font-size', size).attr('fill', fill).text(s)
    const GREY = '#b9bcc4', RED = '#f7606b', LABEL = 9.9
    legend(16, 36, 'UDR, Inc., 1D, NYSE', GREY, LABEL)
    legend(115, 36, 'O36.18', RED)
    legend(154, 36, 'H36.35', RED)
    legend(193, 36, 'L35.37', RED)
    legend(231, 36, 'C35.67', RED)
    legend(269, 36, '0.00 (0.00%)', RED)
    legend(16, 51, 'EMA 20/50/100/200', GREY, LABEL)
    legend(116, 51, '37.27', '#ff0000')
    legend(148, 51, '38.71', '#ff8a1e')
    legend(180, 51, '39.74', '#1af5f5')
    legend(212, 51, '40.93', '#1a1aff')
    legend(16, 66, 'Vol', GREY, LABEL)
    legend(36, 66, '2.829M', RED)
    legend(16, 426, 'RSI (14, close, SMA, 14, 2)', GREY, LABEL)
    legend(145, 426, '24.95', '#7e57c2')
    legend(177, 426, '30.33', '#ffeb3b')
    legend(210, 426, '\u2205', GREY)
    legend(223, 426, '\u2205', GREY)
    legend(16, 555, 'MACD (12, 26, close, 9, EMA, EMA)', GREY, LABEL)
    legend(184, 555, '\u22120.2041', '#ffcdd2')
    legend(227, 555, '\u22121.03', '#2962ff')
    legend(259, 555, '\u22120.8298', '#ff6d00')

    // header and footer
    svg.append('text').attr('x', 9).attr('y', 13).attr('dy', '0.35em').attr('font-family', FONT)
      .attr('font-size', 10).attr('font-weight', 700).attr('fill', '#d1d4dc')
      .text('trader26798 published on TradingView.com, Oct 01, 2023 14:59 UTC+5:30')
    const logo = svg.append('g').attr('fill', '#e8e9ed')
    logo.append('path').attr('d', 'M9,705 H17 V714 H13 V709 H9 Z')
    logo.append('circle').attr('cx', 19.5).attr('cy', 707).attr('r', 1.8)
    logo.append('path').attr('d', 'M22,705 H26 L21.5,714 H17.5 Z')
    svg.append('text').attr('x', 29).attr('y', 710).attr('dy', '0.35em').attr('font-family', FONT)
      .attr('font-size', 11.8).attr('fill', '#e8e9ed').text('TradingView')
  }, [])

  return (
    <>
      <style>{'body{margin:0;background:#1e222d}'}</style>
      <svg ref={svgRef} width={1600} height={725} style={{ display: 'block' }} />
    </>
  )
}
